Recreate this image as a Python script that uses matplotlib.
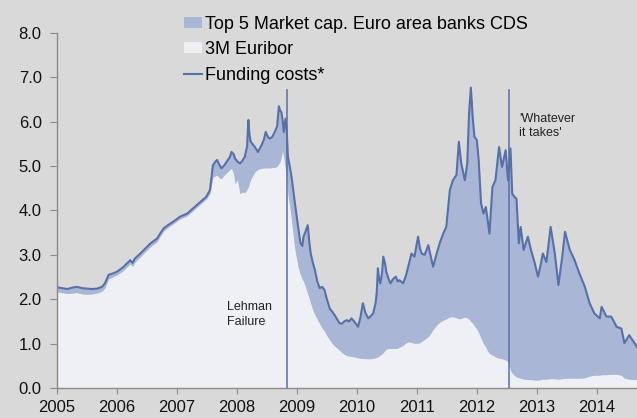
import matplotlib
matplotlib.use("Agg")
import matplotlib.pyplot as plt
from matplotlib.patches import Patch
from matplotlib.lines import Line2D

plt.rcParams['font.family'] = ['Liberation Sans', 'DejaVu Sans']

# decimal years
dates = [
    2005.00, 2005.08, 2005.17, 2005.25, 2005.33, 2005.42, 2005.50, 2005.58, 2005.67, 2005.75,
    2005.80, 2005.86, 2005.93, 2006.00, 2006.11, 2006.22, 2006.26, 2006.30, 2006.39, 2006.47,
    2006.56, 2006.67, 2006.72, 2006.78, 2006.86, 2006.94, 2007.05, 2007.17, 2007.27, 2007.38,
    2007.49, 2007.55, 2007.60, 2007.64, 2007.67, 2007.70, 2007.74, 2007.79, 2007.83, 2007.88,
    2007.91, 2007.94, 2007.97, 2008.01, 2008.05, 2008.09, 2008.13, 2008.17, 2008.19, 2008.21,
    2008.23, 2008.27, 2008.30, 2008.35, 2008.41, 2008.45, 2008.48, 2008.52, 2008.55, 2008.59,
    2008.63, 2008.67, 2008.70, 2008.72, 2008.74, 2008.76, 2008.78, 2008.81, 2008.83, 2008.85,
    2008.88, 2008.91, 2008.96, 2009.02, 2009.06, 2009.09, 2009.11, 2009.15, 2009.18, 2009.21,
    2009.23, 2009.27, 2009.30, 2009.34, 2009.38, 2009.42, 2009.46, 2009.50, 2009.55, 2009.59,
    2009.63, 2009.67, 2009.71, 2009.75, 2009.79, 2009.83, 2009.87, 2009.91, 2009.96, 2010.02,
    2010.06, 2010.10, 2010.14, 2010.19, 2010.23, 2010.27, 2010.31, 2010.33, 2010.35, 2010.37,
    2010.39, 2010.42, 2010.44, 2010.47, 2010.49, 2010.53, 2010.56, 2010.60, 2010.65, 2010.68,
    2010.71, 2010.77, 2010.81, 2010.85, 2010.91, 2010.96, 2011.02, 2011.05, 2011.08, 2011.13,
    2011.19, 2011.24, 2011.27, 2011.33, 2011.38, 2011.44, 2011.49, 2011.55, 2011.60, 2011.66,
    2011.70, 2011.74, 2011.80, 2011.84, 2011.87, 2011.90, 2011.93, 2011.96, 2012.00, 2012.03,
    2012.07, 2012.11, 2012.15, 2012.18, 2012.21, 2012.26, 2012.31, 2012.37, 2012.42, 2012.48,
    2012.52, 2012.56, 2012.59, 2012.63, 2012.66, 2012.70, 2012.73, 2012.78, 2012.85, 2012.91,
    2012.96, 2013.02, 2013.06, 2013.10, 2013.16, 2013.23, 2013.30, 2013.36, 2013.42, 2013.47,
    2013.55, 2013.63, 2013.71, 2013.80, 2013.88, 2013.96, 2014.05, 2014.08, 2014.16, 2014.24,
    2014.33, 2014.41, 2014.46, 2014.54, 2014.63, 2014.67,
]

funding_costs = [
    2.27, 2.25, 2.23, 2.26, 2.28, 2.25, 2.24, 2.23, 2.24, 2.28,
    2.36, 2.55, 2.58, 2.62, 2.73, 2.88, 2.82, 2.92, 3.03, 3.14,
    3.26, 3.37, 3.48, 3.60, 3.68, 3.75, 3.86, 3.93, 4.05, 4.18,
    4.31, 4.46, 5.02, 5.10, 5.14, 5.05, 4.95, 5.02, 5.10, 5.20,
    5.32, 5.28, 5.17, 5.10, 5.06, 5.12, 5.21, 5.45, 6.04, 5.70,
    5.55, 5.48, 5.43, 5.32, 5.47, 5.60, 5.77, 5.65, 5.62, 5.66,
    5.77, 5.90, 6.35, 6.25, 6.22, 6.05, 5.77, 6.07, 5.80, 5.21,
    5.00, 4.76, 4.23, 3.63, 3.26, 3.20, 3.41, 3.55, 3.67, 3.25,
    3.03, 2.80, 2.66, 2.40, 2.25, 2.28, 2.21, 2.00, 1.78, 1.72,
    1.64, 1.55, 1.46, 1.45, 1.50, 1.53, 1.50, 1.57, 1.49, 1.38,
    1.60, 1.91, 1.70, 1.57, 1.62, 1.68, 1.90, 2.13, 2.70, 2.45,
    2.36, 2.60, 2.96, 2.80, 2.62, 2.45, 2.36, 2.45, 2.51, 2.40,
    2.43, 2.36, 2.50, 2.70, 3.03, 2.96, 3.41, 3.15, 3.03, 3.00,
    3.22, 2.92, 2.73, 3.03, 3.26, 3.48, 3.63, 4.46, 4.68, 4.80,
    5.55, 5.06, 4.68, 5.06, 6.19, 6.77, 6.11, 5.66, 5.59, 5.14,
    4.16, 3.93, 4.08, 3.78, 3.48, 4.53, 4.68, 5.43, 4.98, 5.36,
    4.68, 5.40, 4.38, 4.30, 4.27, 3.26, 3.63, 3.11, 3.41, 3.07,
    2.84, 2.51, 2.75, 3.03, 2.84, 3.63, 3.03, 2.32, 2.92, 3.52,
    3.11, 2.88, 2.58, 2.28, 1.91, 1.68, 1.57, 1.83, 1.61, 1.61,
    1.38, 1.34, 1.01, 1.19, 1.01, 0.92,
]

euribor_3m = [
    2.17, 2.15, 2.13, 2.14, 2.15, 2.12, 2.11, 2.12, 2.14, 2.18,
    2.26, 2.46, 2.50, 2.55, 2.65, 2.80, 2.74, 2.84, 2.96, 3.07,
    3.19, 3.30, 3.42, 3.54, 3.63, 3.70, 3.81, 3.88, 4.00, 4.13,
    4.26, 4.38, 4.75, 4.78, 4.80, 4.74, 4.72, 4.80, 4.85, 4.92,
    4.95, 4.85, 4.61, 4.70, 4.38, 4.42, 4.40, 4.48, 4.53, 4.62,
    4.70, 4.80, 4.87, 4.93, 4.95, 4.96, 4.96, 4.96, 4.96, 4.97,
    4.97, 5.00, 5.06, 5.10, 5.20, 5.36, 5.20, 4.91, 4.70, 4.38,
    4.10, 3.78, 3.18, 2.73, 2.55, 2.45, 2.40, 2.25, 2.13, 2.00,
    1.90, 1.75, 1.65, 1.55, 1.45, 1.35, 1.28, 1.18, 1.08, 1.00,
    0.95, 0.90, 0.85, 0.80, 0.76, 0.73, 0.72, 0.71, 0.70, 0.68,
    0.67, 0.67, 0.66, 0.66, 0.66, 0.67, 0.68, 0.69, 0.70, 0.72,
    0.74, 0.77, 0.80, 0.85, 0.88, 0.89, 0.89, 0.89, 0.89, 0.90,
    0.92, 0.96, 1.01, 1.04, 1.03, 1.01, 1.01, 1.02, 1.05, 1.10,
    1.16, 1.25, 1.32, 1.42, 1.48, 1.53, 1.56, 1.60, 1.61, 1.58,
    1.56, 1.57, 1.60, 1.58, 1.55, 1.50, 1.46, 1.40, 1.33, 1.25,
    1.12, 1.00, 0.92, 0.84, 0.78, 0.74, 0.70, 0.67, 0.66, 0.63,
    0.60, 0.40, 0.33, 0.28, 0.25, 0.23, 0.22, 0.20, 0.19, 0.19,
    0.18, 0.18, 0.19, 0.20, 0.20, 0.21, 0.21, 0.20, 0.21, 0.22,
    0.22, 0.22, 0.22, 0.23, 0.27, 0.29, 0.29, 0.30, 0.30, 0.31,
    0.31, 0.29, 0.22, 0.20, 0.19, 0.19,
]

year_ticks = [2005, 2006, 2007, 2008, 2009, 2010, 2011, 2012, 2013, 2014]
y_ticks = [0.0, 1.0, 2.0, 3.0, 4.0, 5.0, 6.0, 7.0, 8.0]

events = [2008.84, 2012.53]
event_top = 6.72
event_labels = ["Lehman\nFailure", "'Whatever\nit takes'"]
event_label_pos = [(2007.83, 1.95), (2012.70, 6.2)]

BG = "#d9d9d9"
LIGHT = "#eff0f6"
BAND = "#aab6d5"
LINE = "#5670aa"
SPINE = "#8a8a8a"

fig = plt.figure(figsize=(6.37, 4.18), dpi=100, facecolor=BG)
ax = fig.add_axes([57 / 637, 30 / 418, 1 - 57 / 637, 355 / 418])
ax.set_facecolor(BG)

ax.fill_between(dates, 0, euribor_3m, color=LIGHT, lw=0, zorder=1)
ax.fill_between(dates, euribor_3m, funding_costs, color=BAND, lw=0, zorder=2)
ax.plot(dates, funding_costs, color=LINE, lw=1.5, zorder=3)

for ev in events:
    ax.plot([ev, ev], [0, event_top], color=LINE, lw=1.1, zorder=4)

for lab, (lx, ly) in zip(event_labels, event_label_pos):
    ax.text(lx, ly, lab, fontsize=9, color="#222222", ha="left", va="top",
            linespacing=1.25, zorder=5)

ax.set_xlim(2005, 2014.67)
ax.set_ylim(0, 8)
ax.set_xticks(year_ticks)
ax.set_xticklabels([str(y) for y in year_ticks])
ax.set_yticks(y_ticks)
ax.set_yticklabels([f"{v:.1f}" for v in y_ticks])

for s in ["top", "right"]:
    ax.spines[s].set_visible(False)
for s in ["left", "bottom"]:
    ax.spines[s].set_color(SPINE)
    ax.spines[s].set_linewidth(1.0)
    ax.spines[s].set_zorder(6)

ax.tick_params(axis="y", length=5, width=0.8, color=SPINE, labelsize=12, pad=6,
               labelcolor="#111111")
ax.tick_params(axis="x", length=4, width=0.8, color=SPINE, labelsize=12, pad=5,
               labelcolor="#111111")

handles = [
    Patch(facecolor=BAND, edgecolor="none"),
    Patch(facecolor=LIGHT, edgecolor="none"),
    Line2D([0], [0], color=LINE, lw=1.5),
]
labels = ["Top 5 Market cap. Euro area banks CDS", "3M Euribor", "Funding costs*"]
fig.legend(handles, labels, loc="upper left", bbox_to_anchor=(180 / 637, 1 - 12 / 418),
           frameon=False, fontsize=13, handlelength=1.0, handleheight=0.55,
           handletextpad=0.2, labelspacing=0.48, borderpad=0.2, borderaxespad=0)

fig.savefig("out.png", dpi=100, facecolor=BG)
